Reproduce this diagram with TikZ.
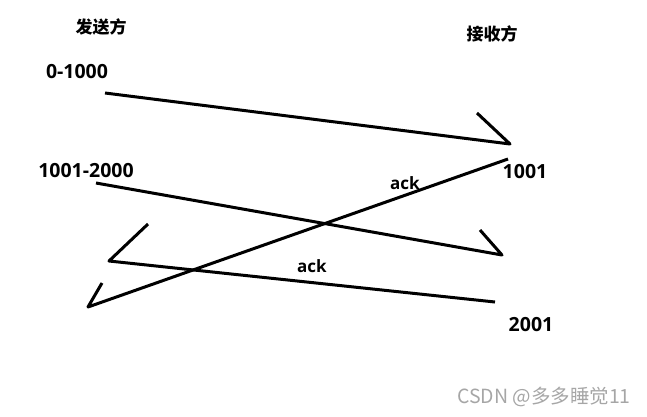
\documentclass[tikz,border=0pt]{standalone}
\usepackage{fontspec}
\setmainfont{Open Sans}
\newfontfamily\cjk{Noto Sans CJK SC}
\usetikzlibrary{positioning}
\definecolor{cmark}{HTML}{A6A6A6}
\tikzset{
  every picture/.style={line width=3pt},
  side/.style={font=\cjk\bfseries\fontsize{17}{20}\selectfont, inner sep=0pt},
  seq/.style={font=\bfseries\fontsize{19.5}{22}\selectfont, inner sep=0pt},
  acklabel/.style={font=\bfseries\fontsize{17}{20}\selectfont, inner sep=0pt},
  stroke/.style={draw=black, line width=3pt, line join=round},
  wmark/.style={font=\cjk\fontsize{19.5}{22}\selectfont, text=cmark, inner sep=0pt},
}

\begin{document}
\begin{tikzpicture}[x=1pt, y=-1pt]
  \useasboundingbox (0,0) rectangle (647,416);
  % the two sides
  \node[side] (sender) at (101,27) {发送方};
  \node[side] (receiver) at (492,34) {接收方};
  % byte ranges and acks
  \node[seq] (segA) at (77,72) {0-1000};
  \node[seq] (segB) at (86,171) {1001-2000};
  \node[seq] (nextA) at (525,172) {1001};
  \node[seq] (nextB) at (531,325) {2001};
  \node[acklabel] (ackA) at (405,183) {ack};
  \node[acklabel] (ackB) at (312,266) {ack};
  % line ends
  \coordinate (a1) at (105,93);  \coordinate (a2) at (510,144); \coordinate (a2h) at (477,113);
  \coordinate (b1) at (96,183);  \coordinate (b2) at (502,255); \coordinate (b2h) at (480,230);
  \coordinate (k1) at (508,159); \coordinate (k2) at (88,307);  \coordinate (k2h) at (102,283);
  \coordinate (m1) at (495,302); \coordinate (m2) at (109,261); \coordinate (m2h) at (148,224);
  % segments sent
  \draw[stroke] (a1) -- (a2) -- (a2h);
  \draw[stroke] (b1) -- (b2) -- (b2h);
  % acks back
  \draw[stroke] (k1) -- (k2) -- (k2h);
  \draw[stroke] (m1) -- (m2) -- (m2h);
  \node[wmark] (wm) at (544,397) {CSDN @多多睡觉11};
\end{tikzpicture}
\end{document}
